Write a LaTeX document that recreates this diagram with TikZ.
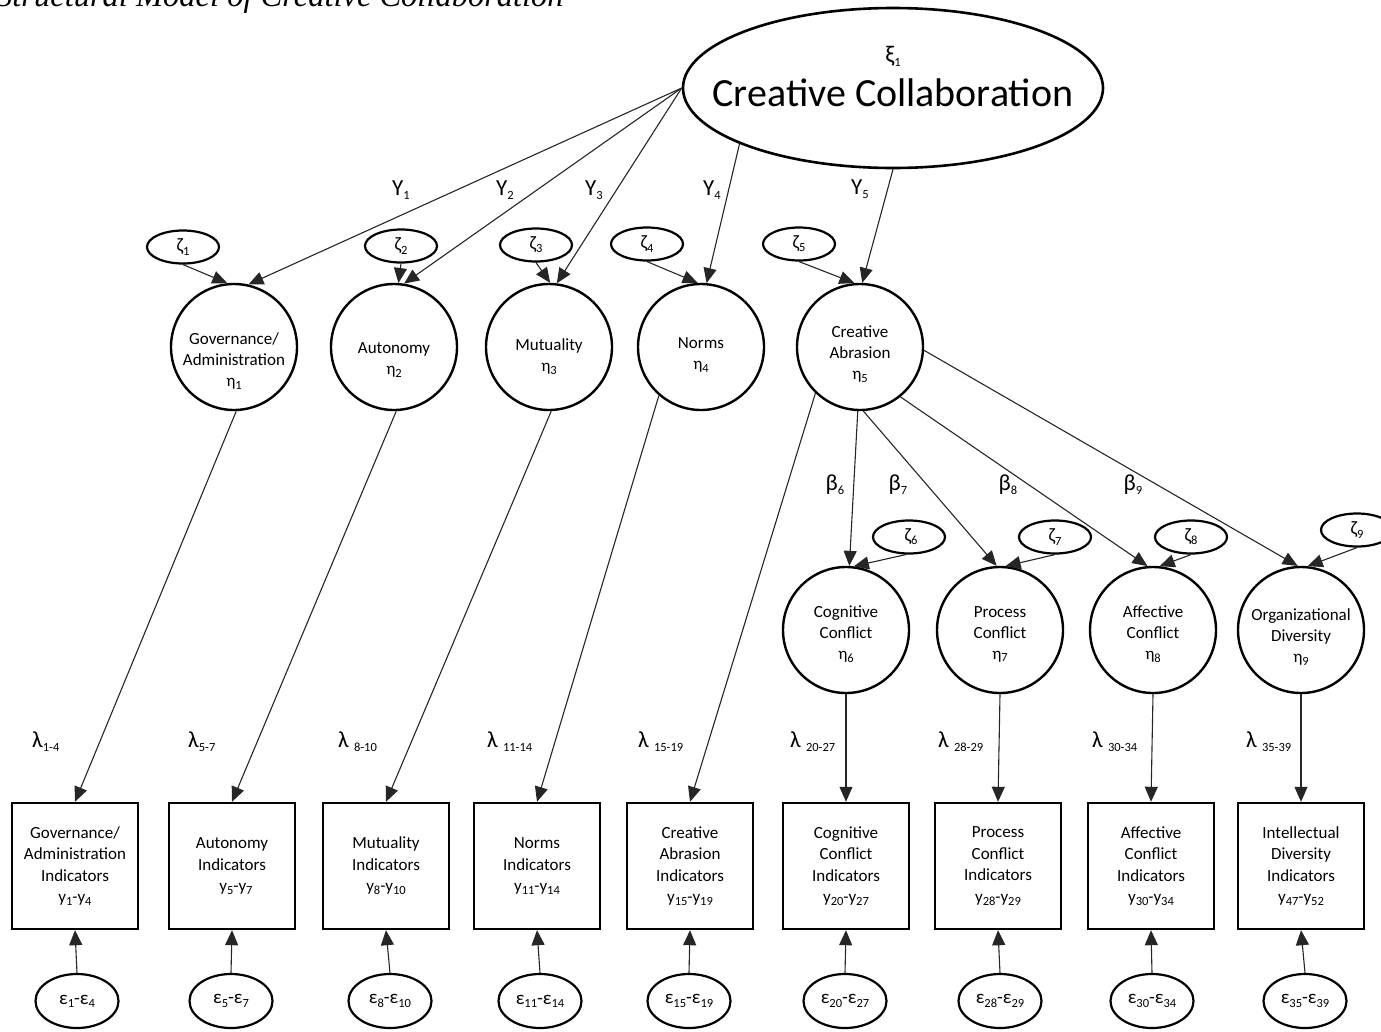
\documentclass[tikz,border=0pt]{standalone}
\usepackage{fontspec}
\setmainfont{Carlito}
\newfontfamily\captionserif{Liberation Serif}
\usetikzlibrary{arrows.meta,shapes.geometric}
% lowered small index used for all subscripts
\newcommand\subix[1]{\raisebox{-0.35ex}{\fontsize{12.5}{12.5}\selectfont #1}}

\begin{document}
\begin{tikzpicture}[x=1pt,y=-1pt,
  latent/.style={circle,draw,line width=2.4pt,minimum size=126pt,inner sep=0pt},
  dist/.style={ellipse,draw,line width=2.2pt,minimum width=72pt,minimum height=33pt,inner sep=0pt,font=\fontsize{19}{19}\selectfont},
  meas/.style={ellipse,draw,line width=2.2pt,minimum width=83pt,minimum height=54pt,inner sep=0pt,font=\fontsize{19}{19}\selectfont},
  indbox/.style={rectangle,draw,line width=2.4pt,minimum size=126pt,inner sep=0pt,align=center,font=\fontsize{17}{21.5}\selectfont},
  ctext/.style={align=center,font=\fontsize{17}{21}\selectfont,inner sep=0pt},
  coef/.style={font=\fontsize{23}{23}\selectfont,inner sep=0pt},
  link/.style={draw=black!85,line width=1.1pt,-{Triangle[length=15pt,width=13pt]}},
]
\useasboundingbox (0,0) rectangle (1381,1031);
\clip (0,0) rectangle (1381,1031);

% caption
\node[anchor=base west,inner sep=0pt,font=\captionserif\itshape\fontsize{32.5}{32.5}\selectfont] (title) at (-4,6) {Structural Model of Creative Collaboration};

% exogenous construct
\node[ellipse,draw,line width=2.6pt,minimum width=420pt,minimum height=160pt,inner sep=0pt] (xi) at (893,88) {};
\node[inner sep=0pt,font=\fontsize{24}{24}\selectfont] (xilab) at (893,56) {ξ\subix{1}};
\node[inner sep=0pt,font=\fontsize{40}{40}\selectfont] (xitext) at (893,93) {Creative Collaboration};

% first-order endogenous constructs
\node[latent] (e1) at (234,347) {};
\node[latent] (e2) at (394,347) {};
\node[latent] (e3) at (549,347) {};
\node[latent] (e4) at (701,347) {};
\node[latent] (e5) at (860,347) {};
\node[ctext] (t1) at (234,361) {Governance/\\Administration\\η\subix{1}};
\node[ctext] (t2) at (394,360) {Autonomy\\η\subix{2}};
\node[ctext] (t3) at (549,357) {Mutuality\\η\subix{3}};
\node[ctext] (t4) at (701,355) {Norms\\η\subix{4}};
\node[ctext] (t5) at (860,354) {Creative\\Abrasion\\η\subix{5}};

% dimensions of creative abrasion
\node[latent] (e6) at (846,630) {};
\node[latent] (e7) at (1000,630) {};
\node[latent] (e8) at (1153,630) {};
\node[latent] (e9) at (1301,630) {};
\node[ctext] (t6) at (846,634) {Cognitive\\Conflict\\η\subix{6}};
\node[ctext] (t7) at (1000,634) {Process\\Conflict\\η\subix{7}};
\node[ctext] (t8) at (1153,634) {Affective\\Conflict\\η\subix{8}};
\node[ctext] (t9) at (1301,637) {Organizational\\Diversity\\η\subix{9}};

% disturbances
\node[dist] (z1) at (183,247) {ζ\subix{1}};
\node[dist] (z2) at (401,246) {ζ\subix{2}};
\node[dist] (z3) at (536,245) {ζ\subix{3}};
\node[dist] (z4) at (647,244) {ζ\subix{4}};
\node[dist] (z5) at (799,244) {ζ\subix{5}};
\node[dist] (z6) at (909,537) {\hspace{4pt}ζ\subix{6}};
\node[dist] (z7) at (1055,537) {ζ\subix{7}};
\node[dist] (z8) at (1191,537) {ζ\subix{8}};
\node[dist] (z9) at (1357,530) {ζ\subix{9}};

% indicator blocks
\node[indbox] (b1) at (75,866) {Governance/\\Administration\\Indicators\\y\subix{1}-y\subix{4}};
\node[indbox] (b2) at (232,866) {Autonomy\\Indicators\\\hspace{8pt}y\subix{5}-y\subix{7}};
\node[indbox] (b3) at (386,866) {Mutuality\\Indicators\\y\subix{8}-y\subix{10}};
\node[indbox] (b4) at (537,866) {Norms\\Indicators\\y\subix{11}-y\subix{14}};
\node[indbox] (b5) at (690,866) {Creative\\Abrasion\\Indicators\\y\subix{15}-y\subix{19}};
\node[indbox] (b6) at (846,866) {Cognitive\\Conflict\\Indicators\\y\subix{20}-y\subix{27}};
\node[indbox] (b7) at (998,866) {Process\\Conflict\\Indicators\\y\subix{28}-y\subix{29}};
\node[indbox] (b8) at (1151,866) {Affective\\Conflict\\Indicators\\y\subix{30}-y\subix{34}};
\node[indbox] (b9) at (1301,866) {Intellectual\\Diversity\\Indicators\\y\subix{47}-y\subix{52}};

% measurement errors
\node[meas] (m1) at (77,1001) {ε\subix{1}-ε\subix{4}};
\node[meas] (m2) at (231,1001) {ε\subix{5}-ε\subix{7}};
\node[meas] (m3) at (390,1001) {ε\subix{8}-ε\subix{10}};
\node[meas] (m4) at (540,1001) {ε\subix{11}-ε\subix{14}};
\node[meas] (m5) at (689,1001) {ε\subix{15}-ε\subix{19}};
\node[meas] (m6) at (845,1001) {ε\subix{20}-ε\subix{27}};
\node[meas] (m7) at (1000,1001) {ε\subix{28}-ε\subix{29}};
\node[meas] (m8) at (1152,1001) {ε\subix{30}-ε\subix{34}};
\node[meas] (m9) at (1305,1001) {ε\subix{35}-ε\subix{39}};

% structural paths (gamma)
\draw[link] (xi.west) -- (e1.77);
\draw[link] (xi.west) -- (e2.81);
\draw[link] (xi.west) -- (e3.83);
\draw[link] (xi.200) -- (e4.85);
\draw[link] (xi.south) -- (e5.88);

% structural paths (beta)
\draw[link] (e5.268) -- (e6.87);
\draw[link] (e5.273) -- (e7.93);
\draw[link] (e5.309) -- (e8.95);
\draw[link] (e5.357) -- (e9.93);

% disturbance paths
\draw[link] (z1.south) -- (e1.96);
\draw[link] (z2.south) -- (e2.86);
\draw[link] (z3.south) -- (e3.89);
\draw[link] (z4.south) -- (e4.93);
\draw[link] (z5.south) -- (e5.95);
\draw[link] (z6.260) -- (e6.83);
\draw[link] (z7.south) -- (e7.85);
\draw[link] (z8.south) -- (e8.84);
\draw[link] (z9.south) -- (e9.84);

% loadings
\draw[link] (e1.272) -- (b1.north);
\draw[link] (e2.272) -- (b2.north);
\draw[link] (e3.272) -- (b3.north);
\draw[link] (e4.229) -- (b4.north);
\draw[link] (e5.226) -- (b5.north);
\draw[link] (e6.south) -- (b6.north);
\draw[link] (e7.south) -- (b7.north);
\draw[link] (e8.south) -- (b8.north);
\draw[link] (e9.south) -- (b9.north);

% error paths
\foreach \k in {1,...,9} \draw[link] (m\k.north) -- (b\k.south);

% coefficient labels
\node[coef] (g1) at (401,190) {Υ\subix{1}};
\node[coef] (g2) at (505,190) {Υ\subix{2}};
\node[coef] (g3) at (594,190) {Υ\subix{3}};
\node[coef] (g4) at (712,190) {Υ\subix{4}};
\node[coef] (g5) at (860,189) {Υ\subix{5}};
\node[coef] (be6) at (835,485) {β\subix{6}};
\node[coef] (be7) at (898,485) {β\subix{7}};
\node[coef] (be8) at (1008,485) {β\subix{8}};
\node[coef] (be9) at (1133,485) {β\subix{9}};
\node[coef,anchor=west] (l1) at (32,742) {λ\subix{1-4}};
\node[coef,anchor=west] (l2) at (188,742) {λ\subix{5-7}};
\node[coef,anchor=west] (l3) at (338,742) {λ \subix{8-10}};
\node[coef,anchor=west] (l4) at (487,742) {λ \subix{11-14}};
\node[coef,anchor=west] (l5) at (638,742) {λ \subix{15-19}};
\node[coef,anchor=west] (l6) at (790,742) {λ \subix{20-27}};
\node[coef,anchor=west] (l7) at (938,742) {λ \subix{28-29}};
\node[coef,anchor=west] (l8) at (1092,742) {λ \subix{30-34}};
\node[coef,anchor=west] (l9) at (1246,742) {λ \subix{35-39}};
\end{tikzpicture}
\end{document}
